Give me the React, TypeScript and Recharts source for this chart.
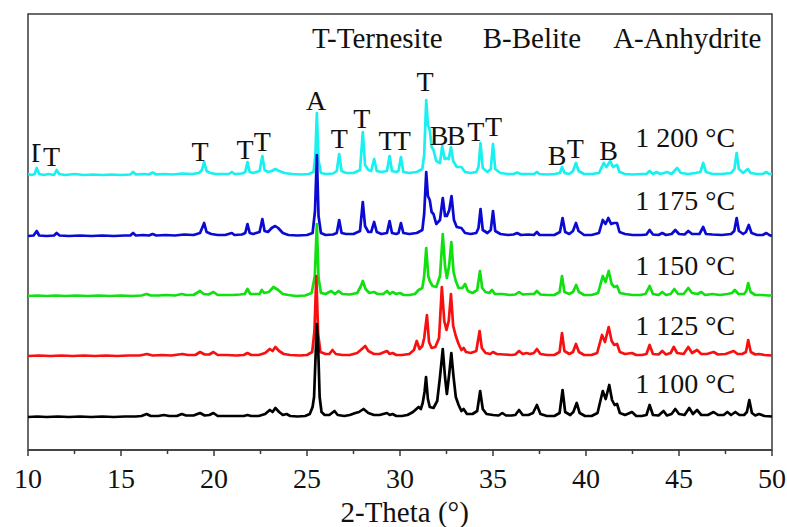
import React from 'react';
import { LineChart, Line, XAxis, YAxis, ReferenceDot, ReferenceArea } from 'recharts';

type Pt = [number, number];

// 2θ (deg) vs. relative intensity (a.u.) for each firing temperature
const XRD_1200: Pt[] = [
  [10.0, 1], [10.2, 0], [10.36, 1], [10.47, 7], [10.6, 1], [10.85, 0], [11.1, 1], [11.4, 0], [11.54, 5], [11.68, 1],
  [12.0, 0], [12.5, 1], [13.0, 0], [13.5, 0.5], [14.0, 0], [14.5, 0.5], [15.0, 0], [15.5, 0.5], [15.65, 3], [15.8, 0.5],
  [16.2, 1], [16.5, 0.5], [16.7, 2.5], [16.9, 0.5], [17.3, 1], [17.8, 0.5], [18.3, 1.5], [18.8, 1], [19.2, 2], [19.35, 5],
  [19.47, 13], [19.6, 4], [19.8, 2], [20.1, 1], [20.5, 1], [20.8, 1], [20.96, 3], [21.1, 1], [21.5, 1.5], [21.68, 3],
  [21.8, 13], [21.92, 3], [22.1, 2], [22.45, 4], [22.6, 19], [22.72, 5], [22.9, 3], [23.1, 4], [23.29, 6], [23.5, 4],
  [23.8, 2], [24.2, 1], [24.7, 0.5], [25.1, 1], [25.35, 3], [25.45, 20], [25.53, 62], [25.62, 15], [25.75, 2], [26.0, 1],
  [26.4, 1.5], [26.6, 4], [26.73, 21], [26.86, 4], [27.1, 2], [27.5, 2], [27.85, 5], [28.0, 43], [28.12, 10], [28.3, 5],
  [28.45, 4], [28.61, 16], [28.75, 4], [29.0, 3], [29.3, 4], [29.44, 19], [29.57, 4], [29.8, 3], [29.92, 4], [30.05, 18],
  [30.18, 3], [30.5, 2], [30.9, 3], [31.2, 6], [31.3, 20], [31.41, 75], [31.5, 50], [31.6, 45], [31.7, 28], [31.8, 25],
  [31.95, 14], [32.15, 12], [32.27, 29], [32.4, 16], [32.5, 17], [32.62, 16], [32.74, 28], [32.86, 14], [33.05, 8], [33.3, 8],
  [33.5, 3], [33.8, 2], [34.1, 3], [34.22, 8], [34.33, 32], [34.45, 7], [34.7, 3], [34.88, 6], [35.0, 31], [35.12, 6],
  [35.4, 2], [35.8, 1], [36.1, 1], [36.3, 2.5], [36.5, 1], [36.9, 1], [37.2, 1], [37.36, 3], [37.5, 1], [37.9, 0.5],
  [38.3, 1], [38.6, 2], [38.71, 8], [38.85, 2], [39.1, 1], [39.3, 4], [39.46, 12], [39.6, 4], [39.9, 1], [40.3, 1],
  [40.7, 2], [40.85, 8], [40.95, 12], [41.1, 8], [41.3, 14], [41.45, 8], [41.55, 9], [41.67, 10], [41.8, 3], [42.1, 1],
  [42.5, 0.5], [43.0, 1], [43.25, 1], [43.42, 4], [43.6, 1], [43.8, 3], [44.0, 1], [44.36, 3], [44.6, 1], [44.9, 7],
  [45.1, 2], [45.5, 1], [45.9, 2], [46.15, 3], [46.3, 12], [46.45, 3], [46.8, 1], [47.3, 1], [47.8, 2], [47.98, 6],
  [48.1, 22], [48.22, 6], [48.45, 2], [48.7, 6], [48.85, 2], [49.2, 1], [49.5, 1], [49.7, 3], [49.85, 1], [50.0, 1],
];

const XRD_1175: Pt[] = [
  [10.0, 0], [10.3, 0.5], [10.47, 5], [10.6, 0.5], [11.0, 0], [11.4, 0.5], [11.54, 3], [11.7, 0.5], [12.2, 0], [12.8, 0.5],
  [13.4, 0], [14.0, 0.5], [14.6, 0], [15.2, 0.5], [15.5, 0.5], [15.65, 3], [15.8, 0.5], [16.2, 1], [16.5, 0.5], [16.7, 2],
  [16.9, 0.5], [17.4, 1], [17.9, 0.5], [18.4, 1.5], [18.9, 1], [19.25, 3], [19.47, 13], [19.6, 4], [19.85, 2], [20.2, 1],
  [20.6, 1], [20.96, 3], [21.1, 1], [21.5, 1.5], [21.68, 3], [21.8, 12], [21.92, 3], [22.1, 2], [22.45, 4], [22.6, 17],
  [22.72, 5], [22.9, 4], [23.1, 8], [23.29, 10], [23.45, 8], [23.7, 3], [24.0, 1], [24.5, 0.5], [25.0, 1], [25.3, 3],
  [25.43, 25], [25.53, 81], [25.62, 20], [25.75, 3], [26.0, 1], [26.4, 1.5], [26.6, 3], [26.73, 16], [26.86, 3], [27.1, 2],
  [27.5, 2], [27.85, 5], [28.0, 34], [28.12, 10], [28.3, 4], [28.45, 4], [28.61, 14], [28.75, 4], [29.0, 2], [29.3, 3],
  [29.44, 15], [29.57, 3], [29.8, 2], [29.92, 3], [30.05, 13], [30.18, 3], [30.5, 2], [30.9, 3], [31.2, 6], [31.3, 22],
  [31.41, 64], [31.5, 40], [31.6, 36], [31.7, 24], [31.8, 22], [31.95, 12], [32.15, 16], [32.3, 38], [32.42, 20], [32.52, 20],
  [32.65, 26], [32.77, 40], [32.9, 16], [33.05, 9], [33.3, 8], [33.5, 3], [33.8, 2], [34.1, 3], [34.22, 8], [34.33, 27],
  [34.45, 6], [34.7, 3], [34.88, 6], [35.0, 25], [35.12, 5], [35.4, 2], [35.8, 1], [36.1, 1.5], [36.3, 3], [36.5, 1],
  [36.9, 1.5], [37.2, 1], [37.36, 4], [37.5, 1], [37.9, 1], [38.3, 1], [38.6, 4], [38.74, 18], [38.88, 4], [39.1, 2],
  [39.3, 5], [39.46, 13], [39.6, 5], [39.9, 1], [40.3, 1], [40.7, 3], [40.9, 16], [41.05, 12], [41.2, 18], [41.35, 12],
  [41.5, 13], [41.67, 13], [41.8, 4], [42.1, 2], [42.5, 1], [43.0, 1], [43.25, 1.5], [43.42, 6], [43.6, 1.5], [43.9, 1],
  [44.1, 3], [44.3, 1], [44.6, 2], [44.8, 6], [45.0, 2], [45.3, 1.5], [45.5, 5], [45.7, 2], [46.1, 2], [46.3, 9],
  [46.45, 2], [46.8, 1.5], [47.3, 1], [47.8, 2], [47.97, 5], [48.1, 18], [48.22, 5], [48.45, 2], [48.6, 4], [48.75, 11],
  [48.9, 3], [49.2, 1], [49.5, 1], [49.7, 3], [49.85, 1], [50.0, 0],
];

const XRD_1150: Pt[] = [
  [10.0, 0], [10.5, 0.5], [11.0, 0], [11.5, 0.5], [12.0, 0], [12.6, 0.5], [13.2, 0], [13.8, 0.5], [14.4, 0], [15.0, 0.5],
  [15.6, 0], [16.1, 0.5], [16.38, 2], [16.6, 0.5], [17.0, 0.5], [17.4, 1], [17.9, 0.5], [18.27, 2], [18.5, 1], [18.9, 1],
  [19.25, 5], [19.45, 2], [19.7, 1.5], [19.97, 4], [20.2, 1], [20.6, 1], [21.0, 1], [21.4, 1.5], [21.65, 2], [21.8, 7],
  [21.95, 2], [22.2, 2], [22.45, 2], [22.57, 6], [22.7, 3], [22.95, 4], [23.2, 9], [23.45, 6], [23.7, 2], [24.0, 1],
  [24.4, 0], [24.9, 0.5], [25.25, 3], [25.42, 20], [25.53, 72], [25.62, 18], [25.75, 3], [26.0, 2], [26.3, 5], [26.5, 2],
  [26.7, 5], [26.9, 2], [27.3, 1.5], [27.7, 3], [27.9, 10], [28.0, 15], [28.15, 7], [28.35, 3], [28.6, 4], [28.8, 2],
  [29.1, 2], [29.3, 5], [29.45, 2], [29.6, 4], [29.8, 2], [30.0, 3], [30.2, 1], [30.5, 1], [30.8, 2], [31.0, 6],
  [31.2, 8], [31.3, 20], [31.41, 48], [31.52, 20], [31.6, 15], [31.75, 10], [31.95, 9], [32.15, 20], [32.3, 62], [32.42, 30],
  [32.52, 18], [32.64, 30], [32.76, 54], [32.88, 24], [33.0, 15], [33.15, 8], [33.35, 8], [33.5, 12], [33.65, 5], [33.9, 3],
  [34.15, 6], [34.3, 25], [34.42, 8], [34.6, 4], [34.8, 3], [34.95, 6], [35.1, 2], [35.5, 2], [35.9, 1], [36.2, 1.5],
  [36.4, 4], [36.6, 1.5], [37.0, 2], [37.2, 2], [37.36, 5], [37.55, 1.5], [37.9, 1], [38.3, 1], [38.58, 4], [38.71, 20],
  [38.84, 4], [39.1, 2], [39.3, 4], [39.47, 11], [39.62, 4], [39.9, 1], [40.3, 1], [40.65, 3], [40.9, 20], [41.05, 14],
  [41.22, 25], [41.38, 12], [41.52, 9], [41.67, 10], [41.82, 3], [42.1, 2], [42.5, 1], [42.9, 1], [43.2, 2], [43.42, 10],
  [43.6, 2], [43.9, 1], [44.1, 4], [44.3, 1], [44.55, 2], [44.75, 7], [44.95, 2], [45.25, 2], [45.5, 8], [45.7, 3],
  [46.0, 2], [46.2, 4], [46.4, 1], [46.8, 2], [47.2, 1], [47.6, 2], [47.85, 3], [48.0, 6], [48.2, 2], [48.5, 2],
  [48.62, 5], [48.72, 13], [48.85, 4], [49.1, 1], [49.5, 1], [49.8, 0.5], [50.0, 0.5],
];

const XRD_1125: Pt[] = [
  [10.0, 0], [10.6, 0.5], [11.2, 0], [11.8, 0.5], [12.4, 0], [13.0, 0.5], [13.6, 0], [14.2, 0.5], [14.8, 0], [15.4, 0.5],
  [16.0, 0.5], [16.4, 2], [16.7, 0.5], [17.2, 1], [17.7, 0.5], [18.3, 2], [18.6, 1], [19.0, 1], [19.25, 4], [19.5, 1.5],
  [19.75, 1.5], [19.97, 4], [20.2, 1], [20.7, 1], [21.2, 0.5], [21.6, 1], [21.8, 3], [22.0, 1], [22.4, 1], [22.75, 3],
  [23.0, 7], [23.15, 5], [23.3, 9], [23.5, 5], [23.75, 2], [24.1, 1], [24.6, 0.5], [25.0, 1], [25.28, 4], [25.4, 25],
  [25.5, 80], [25.6, 22], [25.72, 4], [26.0, 2], [26.2, 2], [26.37, 6], [26.55, 2], [26.9, 1], [27.3, 1], [27.7, 3],
  [27.95, 7], [28.13, 10], [28.3, 5], [28.6, 2], [28.9, 2], [29.3, 5], [29.45, 2], [29.6, 3], [29.8, 1], [30.1, 1],
  [30.5, 2], [30.75, 6], [30.9, 15], [31.05, 7], [31.2, 10], [31.3, 18], [31.45, 41], [31.56, 14], [31.7, 8], [31.9, 9],
  [32.1, 18], [32.25, 69], [32.38, 35], [32.5, 26], [32.62, 35], [32.74, 62], [32.86, 30], [33.0, 20], [33.15, 12], [33.3, 6],
  [33.42, 8], [33.55, 4], [33.8, 3], [34.1, 5], [34.28, 25], [34.4, 8], [34.6, 3], [34.85, 2], [35.0, 4], [35.2, 2],
  [35.6, 1.5], [36.0, 1], [36.2, 1.5], [36.4, 5], [36.6, 2], [36.8, 3], [37.0, 2], [37.2, 3], [37.36, 7], [37.55, 2],
  [37.9, 1], [38.3, 1], [38.58, 4], [38.71, 23], [38.84, 5], [39.1, 2], [39.3, 4], [39.46, 12], [39.62, 4], [39.9, 1],
  [40.3, 1], [40.6, 3], [40.86, 21], [41.02, 14], [41.22, 29], [41.38, 15], [41.52, 11], [41.67, 12], [41.82, 4], [42.1, 2],
  [42.47, 3], [42.7, 1], [43.0, 1], [43.25, 2], [43.42, 11], [43.6, 2], [43.9, 1.5], [44.1, 5], [44.3, 1.5], [44.55, 3],
  [44.72, 9], [44.9, 3], [45.25, 2], [45.5, 9], [45.7, 3], [45.97, 6], [46.2, 2], [46.5, 2], [46.86, 4], [47.1, 1.5],
  [47.5, 2], [47.94, 5], [48.15, 2], [48.4, 2], [48.6, 4], [48.72, 16], [48.86, 4], [49.1, 1.5], [49.3, 2], [49.6, 1],
  [50.0, 0.5],
];

const XRD_1100: Pt[] = [
  [10.0, 0], [10.5, 0.5], [11.0, 0], [11.6, 0.5], [12.2, 0], [12.8, 0.5], [13.4, 0], [14.0, 0.5], [14.6, 0], [15.2, 0.5],
  [15.8, 0.5], [16.1, 1], [16.38, 3], [16.6, 1], [17.0, 1], [17.3, 2], [17.6, 1], [18.0, 1], [18.27, 3], [18.5, 1.5],
  [18.9, 1.5], [19.25, 4], [19.5, 1.5], [19.75, 2], [19.97, 4], [20.2, 1], [20.7, 1], [21.2, 1], [21.6, 1], [21.8, 2],
  [22.0, 1], [22.4, 1], [22.75, 3], [23.0, 7], [23.15, 5], [23.3, 9], [23.5, 5], [23.7, 2], [23.9, 3], [24.1, 1],
  [24.5, 0.5], [24.9, 1], [25.15, 3], [25.3, 10], [25.38, 20], [25.46, 60], [25.53, 93], [25.6, 70], [25.68, 20], [25.78, 5],
  [25.95, 2], [26.2, 2], [26.48, 6], [26.65, 2], [27.0, 1], [27.3, 2], [27.6, 4], [27.8, 5], [28.04, 8], [28.3, 4],
  [28.6, 2], [28.9, 2], [29.3, 4], [29.45, 2], [29.6, 3], [29.8, 1], [30.1, 1], [30.4, 2], [30.7, 5], [31.0, 10],
  [31.12, 8], [31.22, 14], [31.32, 25], [31.4, 40], [31.5, 18], [31.6, 10], [31.8, 9], [32.0, 16], [32.15, 40], [32.3, 68],
  [32.42, 40], [32.52, 23], [32.64, 42], [32.76, 64], [32.88, 40], [33.0, 20], [33.15, 12], [33.3, 6], [33.42, 8], [33.6, 3],
  [33.9, 3], [34.15, 6], [34.31, 26], [34.45, 8], [34.65, 3], [35.0, 2], [35.3, 1.5], [35.5, 4], [35.7, 1.5], [36.0, 1.5],
  [36.2, 2], [36.4, 7], [36.6, 2], [36.9, 2], [37.15, 4], [37.36, 12], [37.55, 3], [37.9, 1], [38.3, 1], [38.58, 4],
  [38.74, 27], [38.88, 5], [39.15, 2], [39.32, 5], [39.5, 14], [39.66, 4], [39.95, 1], [40.3, 1], [40.62, 4], [40.9, 26],
  [41.06, 18], [41.25, 32], [41.4, 17], [41.54, 12], [41.67, 13], [41.82, 4], [42.1, 2], [42.47, 5], [42.7, 1], [43.0, 1],
  [43.25, 2], [43.42, 12], [43.6, 2], [43.9, 1.5], [44.17, 6], [44.35, 1.5], [44.6, 3], [44.8, 8], [45.0, 3], [45.3, 2],
  [45.55, 9], [45.75, 3], [45.97, 7], [46.2, 2], [46.55, 2], [46.86, 5], [47.1, 2], [47.4, 2], [47.6, 5], [47.8, 2],
  [48.03, 5], [48.25, 2], [48.5, 2], [48.65, 5], [48.78, 17], [48.92, 4], [49.1, 1.5], [49.3, 3], [49.6, 1], [50.0, 0.5],
];

// vertical stacking offset of each pattern (a.u.)
const TEMPERATURES = ['1 200 °C', '1 175 °C', '1 150 °C', '1 125 °C', '1 100 °C'];
const PATTERNS = [XRD_1200, XRD_1175, XRD_1150, XRD_1125, XRD_1100];
const STACK_OFFSETS = [275, 214, 154, 94, 33];
const COLORS = ['#19f0f0', '#0a0ad2', '#10e010', '#f81010', '#000000'];
const TEMP_LABEL_X = 42.65;
const TEMP_LABEL_Y = [303, 240, 175, 115, 57];

// phase identification marks above the 1 200 °C pattern: [letter, 2θ, intensity]
const PEAK_MARKS: [string, number, number][] = [
  ['T', 10.38, 288], ['T', 11.27, 284], ['T', 19.25, 289], ['T', 21.67, 291], ['T', 22.6, 299],
  ['A', 25.49, 340], ['T', 26.74, 302], ['T', 27.95, 322], ['T', 29.3, 300], ['T', 30.12, 300],
  ['T', 31.35, 359], ['B', 32.1, 305], ['B', 33.02, 305], ['T', 34.07, 309], ['T', 35.03, 314],
  ['B', 38.44, 285], ['T', 39.42, 292], ['B', 41.21, 290],
];

const PHASE_KEY: [string, number][] = [
  ['T-Ternesite', 25.27], ['B-Belite', 34.45], ['A-Anhydrite', 41.46],
];
const PHASE_KEY_Y = 402;

const X_DOMAIN: [number, number] = [10, 50];
const MAJOR_TICKS = [10, 15, 20, 25, 30, 35, 40, 45, 50];
const MINOR_TICKS = [12.5, 17.5, 22.5, 27.5, 32.5, 37.5, 42.5, 47.5];
const X_TITLE = '2-Theta (°)';

const FONT = '"Liberation Serif", "Times New Roman", Times, serif';
const FRAME = '#3a3a3a';

const AxisTick = (props: any) => {
  const { x, y, payload } = props;
  const major = MAJOR_TICKS.includes(payload.value);
  return (
    <g>
      <line x1={x} y1={y} x2={x} y2={y + (major ? 6 : 4)} stroke={FRAME} strokeWidth={1.5} />
      {major && (
        <text x={x} y={y + 38} textAnchor="middle" fontFamily={FONT} fontSize={28} fill="#111">
          {payload.value}
        </text>
      )}
    </g>
  );
};

const textShape = (label: string, anchor: 'start' | 'middle', size: number, clipLeft?: boolean) =>
  (p: any) => {
    if (clipLeft) {
      const id = `clip-${Math.round(p.cx)}`;
      return (
        <g>
          <defs>
            <clipPath id={id}>
              <rect x={p.cx - 2.5} y={p.cy - 30} width={8} height={40} />
            </clipPath>
          </defs>
          <text x={p.cx} y={p.cy} textAnchor={anchor} fontFamily={FONT} fontSize={size} fill="#111" clipPath={`url(#${id})`}>
            {label}
          </text>
        </g>
      );
    }
    return (
      <text x={p.cx} y={p.cy} textAnchor={anchor} fontFamily={FONT} fontSize={size} fill="#111">
        {label}
      </text>
    );
  };

export default function App() {
  const series = PATTERNS.map((pts, i) => ({
    name: TEMPERATURES[i],
    color: COLORS[i],
    rows: pts.map(([x, h]) => ({ x, y: h + STACK_OFFSETS[i] })),
  }));

  return (
    <div style={{ position: 'absolute', left: 0, top: 0, width: 787, height: 527, background: '#fff' }}>
      <LineChart width={787} height={527} margin={{ top: 14, right: 15, left: 28, bottom: 47 }}>
        <XAxis
          type="number"
          dataKey="x"
          domain={X_DOMAIN}
          ticks={[...MAJOR_TICKS, ...MINOR_TICKS].sort((a, b) => a - b)}
          interval={0}
          tick={<AxisTick />}
          tickLine={false}
          tickSize={0}
          tickMargin={0}
          height={30}
          axisLine={{ stroke: FRAME, strokeWidth: 1.5 }}
          allowDataOverflow
        />
        <YAxis type="number" domain={[0, 436]} hide allowDataOverflow />
        <ReferenceArea x1={10} x2={50} y1={0} y2={436} fill="none" stroke={FRAME} strokeWidth={1.5} ifOverflow="visible" />
        {series.map((s) => (
          <Line
            key={s.name}
            data={s.rows}
            dataKey="y"
            type="linear"
            stroke={s.color}
            strokeWidth={2.7}
            strokeLinejoin="round"
            dot={false}
            activeDot={false}
            isAnimationActive={false}
          />
        ))}
        {PEAK_MARKS.map(([t, x, y], i) => (
          <ReferenceDot key={`pk-${i}`} x={x} y={y} r={0} ifOverflow="visible" shape={textShape(t, 'middle', 28, i === 0)} />
        ))}
        {PHASE_KEY.map(([t, x]) => (
          <ReferenceDot key={t} x={x} y={PHASE_KEY_Y} r={0} ifOverflow="visible" shape={textShape(t, 'start', 29)} />
        ))}
        {TEMPERATURES.map((t, i) => (
          <ReferenceDot key={`lbl-${t}`} x={TEMP_LABEL_X} y={TEMP_LABEL_Y[i]} r={0} ifOverflow="visible" shape={textShape(t, 'start', 28)} />
        ))}
        <ReferenceDot x={30.25} y={-72} r={0} ifOverflow="visible" shape={textShape(X_TITLE, 'middle', 29)} />
      </LineChart>
    </div>
  );
}
